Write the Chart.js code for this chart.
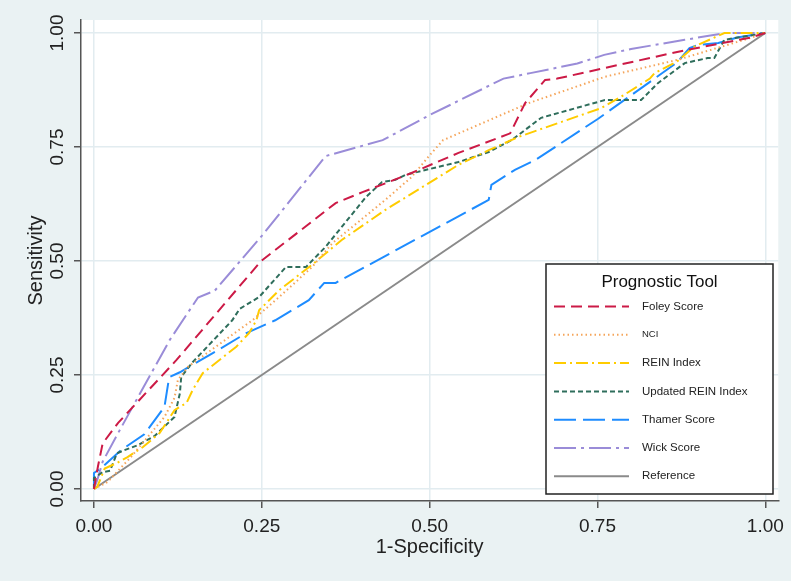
<!DOCTYPE html>
<html>
<head>
<meta charset="utf-8">
<script src="https://cdn.jsdelivr.net/npm/chart.js@4.4.1/dist/chart.umd.min.js"></script>
<style>
  html, body { margin: 0; padding: 0; background: #eaf2f3; }
  canvas { display: block; }
</style>
</head>
<body>
<canvas id="rocChart" width="791" height="581"></canvas>
<script>
// curvas ROC, pares [1-especificidad, sensibilidad]
const seriesNames = ["Foley Score", "NCI", "REIN Index", "Updated REIN Index", "Thamer Score", "Wick Score", "Reference"];
const axisTicks = [0, 0.25, 0.5, 0.75, 1];

const foleyScore = [[0,0],[0.006,0.05],[0.013,0.10],[0.036,0.145],[0.123,0.283],[0.249,0.50],[0.36,0.627],[0.40,0.651],
  [0.43,0.668],[0.473,0.693],[0.543,0.737],[0.62,0.78],[0.642,0.846],[0.672,0.897],[0.69,0.90],[0.76,0.923],
  [0.88,0.962],[0.978,0.99],[1,1]];
const nci = [[0,0],[0.02,0.015],[0.055,0.07],[0.08,0.114],[0.105,0.158],[0.12,0.2],[0.125,0.239],[0.14,0.268],
  [0.236,0.37],[0.276,0.421],[0.325,0.487],[0.355,0.539],[0.434,0.634],[0.473,0.684],[0.503,0.737],[0.52,0.765],
  [0.647,0.846],[0.761,0.904],[0.869,0.941],[0.973,0.987],[1,1]];
const reinIndex = [[0,0],[0.005,0.005],[0.016,0.045],[0.034,0.057],[0.05,0.07],[0.073,0.092],[0.098,0.123],[0.12,0.173],
  [0.138,0.189],[0.147,0.217],[0.162,0.254],[0.212,0.312],[0.231,0.342],[0.242,0.37],[0.246,0.392],[0.276,0.436],
  [0.325,0.492],[0.369,0.546],[0.434,0.612],[0.543,0.711],[0.588,0.743],[0.632,0.772],[0.755,0.835],[0.785,0.86],
  [0.828,0.90],[0.835,0.912],[0.869,0.938],[0.894,0.97],[0.939,1.0],[1,1]];
const updatedRein = [[0,0],[0,0.024],[0.013,0.037],[0.024,0.04],[0.034,0.078],[0.045,0.085],[0.065,0.096],[0.09,0.116],
  [0.12,0.158],[0.128,0.21],[0.13,0.246],[0.147,0.278],[0.206,0.37],[0.217,0.395],[0.246,0.421],[0.286,0.487],
  [0.316,0.487],[0.345,0.531],[0.405,0.64],[0.429,0.673],[0.449,0.678],[0.464,0.689],[0.543,0.717],[0.588,0.739],
  [0.622,0.765],[0.666,0.814],[0.761,0.853],[0.815,0.853],[0.84,0.89],[0.88,0.934],[0.914,0.945],[0.924,0.945],
  [0.939,0.985],[1,1]];
const thamerScore = [[0,0],[0,0.035],[0.01,0.045],[0.04,0.085],[0.075,0.12],[0.105,0.18],[0.112,0.245],[0.128,0.256],
  [0.177,0.298],[0.227,0.342],[0.27,0.37],[0.32,0.414],[0.343,0.452],[0.36,0.452],[0.588,0.634],[0.592,0.667],
  [0.627,0.70],[0.657,0.721],[0.751,0.812],[0.835,0.90],[0.869,0.936],[0.887,0.967],[0.90,0.974],[0.93,0.978],
  [0.958,0.99],[1,1]];
const wickScore = [[0,0],[0.005,0.02],[0.013,0.06],[0.035,0.12],[0.065,0.2],[0.113,0.327],[0.155,0.42],[0.18,0.435],
  [0.25,0.555],[0.345,0.73],[0.43,0.765],[0.5,0.82],[0.61,0.9],[0.65,0.912],[0.72,0.933],[0.76,0.952],[0.80,0.965],
  [0.88,0.985],[0.94,1.0],[1,1]];
const reference = [[0,0],[1,1]];

const seriesData = [foleyScore, nci, reinIndex, updatedRein, thamerScore, wickScore, reference];
const seriesColors = ["#cc1a46", "#f5a55a", "#ffcc00", "#2f6e5c", "#1e8cff", "#9a8cd8", "#8a8a8a"];
const seriesDashes = [[11, 6], [1.5, 3], [12, 4, 2, 4], [5, 3], [22, 7], [22, 5, 3, 5], []];

const FONT = "'Liberation Sans', Arial, sans-serif";

const datasets = seriesNames.map((name, i) => ({
    label: name,
    data: seriesData[i].map((p) => ({ x: p[0], y: p[1] })),
    borderColor: seriesColors[i],
    borderDash: seriesDashes[i],
    borderWidth: 2,
    pointRadius: 0,
    showLine: true,
    tension: 0,
    fill: false,
}));

// fondo gris azulado y area del grafico en blanco
const plotBackground = {
    id: "plotBackground",
    beforeDraw(chart) {
        const { ctx, chartArea: a } = chart;
        ctx.save();
        ctx.fillStyle = "#eaf2f3";
        ctx.fillRect(0, 0, chart.width, chart.height);
        ctx.fillStyle = "#ffffff";
        ctx.fillRect(a.left, a.top, a.right - a.left, a.bottom - a.top);
        ctx.restore();
    },
};

// leyenda dentro del area, como en Stata
const boxLegend = {
    id: "boxLegend",
    afterDraw(chart) {
        const ctx = chart.ctx;
        const box = { left: 546, top: 264, right: 773, bottom: 494 };
        ctx.save();
        ctx.fillStyle = "#ffffff";
        ctx.fillRect(box.left, box.top, box.right - box.left, box.bottom - box.top);
        ctx.strokeStyle = "#222";
        ctx.lineWidth = 1.5;
        ctx.strokeRect(box.left, box.top, box.right - box.left, box.bottom - box.top);

        ctx.fillStyle = "#111";
        ctx.font = "17px " + FONT;
        ctx.textAlign = "center";
        ctx.textBaseline = "middle";
        ctx.fillText("Prognostic Tool", (box.left + box.right) / 2, 282);

        chart.data.datasets.forEach((ds, i) => {
            const y = 306.5 + i * 28.3;
            ctx.beginPath();
            ctx.setLineDash(ds.borderDash);
            ctx.strokeStyle = ds.borderColor;
            ctx.lineWidth = 2;
            ctx.moveTo(554, y);
            ctx.lineTo(629, y);
            ctx.stroke();
            ctx.setLineDash([]);
            ctx.fillStyle = "#222";
            ctx.font = (ds.label === "NCI" ? "9.5px " : "11.5px ") + FONT;
            ctx.textAlign = "left";
            ctx.fillText(ds.label, 642, y);
        });
        ctx.restore();
    },
};

const setTicks = (scale) => {
    scale.ticks = axisTicks.map((v) => ({ value: v }));
};

const ctx = document.getElementById("rocChart").getContext("2d");

new Chart(ctx, {
    type: "scatter",
    data: { datasets: datasets },
    plugins: [plotBackground, boxLegend],
    options: {
        responsive: false,
        animation: false,
        devicePixelRatio: 1,
        layout: { padding: { top: 20, right: 10, left: 0, bottom: 0 } },
        plugins: {
            legend: { display: false },
            tooltip: { enabled: false },
        },
        scales: {
            x: {
                type: "linear",
                min: -0.01929,
                max: 1.01929,
                afterBuildTicks: setTicks,
                afterFit: (scale) => { scale.height = 80; },
                grid: { color: "#e2ecf0", lineWidth: 1.5, tickColor: "#555", tickLength: 7 },
                border: { color: "#555", width: 1.5 },
                ticks: {
                    color: "#222",
                    font: { family: FONT, size: 19 },
                    padding: 7,
                    maxRotation: 0,
                    callback: (v) => Number(v).toFixed(2),
                },
                title: {
                    display: true,
                    text: "1-Specificity",
                    color: "#222",
                    font: { family: FONT, size: 20 },
                    padding: { top: 0, bottom: 22 },
                },
            },
            y: {
                type: "linear",
                min: -0.0263,
                max: 1.0285,
                afterBuildTicks: setTicks,
                afterFit: (scale) => { scale.width = 81; },
                grid: { color: "#e2ecf0", lineWidth: 1.5, tickColor: "#555", tickLength: 7 },
                border: { color: "#555", width: 1.5 },
                ticks: {
                    color: "#222",
                    font: { family: FONT, size: 19 },
                    padding: -2,
                    minRotation: 90,
                    maxRotation: 90,
                    crossAlign: "center",
                    callback: (v) => Number(v).toFixed(2),
                },
                title: {
                    display: true,
                    text: "Sensitivity",
                    color: "#222",
                    font: { family: FONT, size: 20 },
                    padding: { top: 24, bottom: 0 },
                },
            },
        },
    },
});
</script>
</body>
</html>
